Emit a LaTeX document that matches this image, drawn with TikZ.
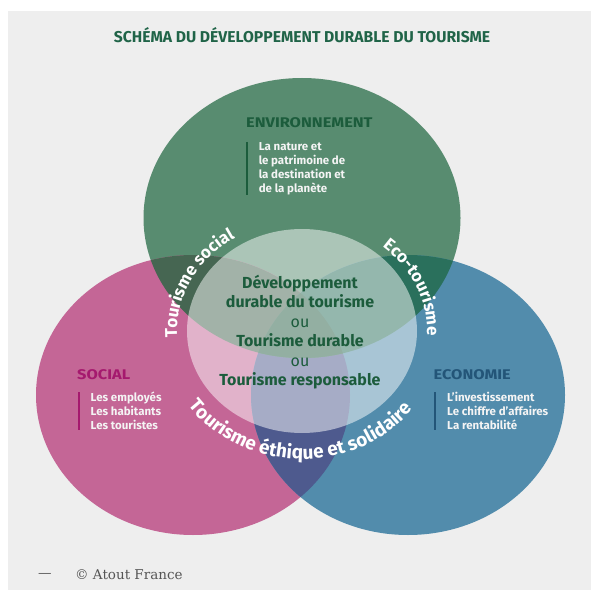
\documentclass[tikz,border=0pt]{standalone}
\usepackage{fontspec}
\setmainfont{Fira Sans}
\newfontfamily\creditfont{DejaVu Serif}
\newfontfamily\headfont[FakeStretch=1.17]{Fira Sans}
\usetikzlibrary{positioning,
                decorations.text}

\definecolor{bggray}{RGB}{238,238,238}
\definecolor{envgreen}{RGB}{88,140,112}
\definecolor{socpink}{RGB}{196,102,150}
\definecolor{ecoblue}{RGB}{82,140,172}
\definecolor{envsoc}{RGB}{70,102,82}
\definecolor{enveco}{RGB}{42,112,92}
\definecolor{soceco}{RGB}{78,90,142}
\definecolor{allthree}{RGB}{40,95,70}
\definecolor{titlegreen}{RGB}{32,100,72}
\definecolor{envdark}{RGB}{28,92,60}
\definecolor{socdark}{RGB}{165,25,110}
\definecolor{ecodark}{RGB}{35,85,120}
\definecolor{bodywhite}{RGB}{244,244,244}
\definecolor{creditgray}{RGB}{85,85,85}

\newcommand{\sidefont}{\bfseries\fontsize{17}{17}\selectfont}
\newcommand{\arcfont}{\bfseries\fontsize{19}{19}\selectfont}

\tikzset{heading/.style =
   {anchor=west,
    inner sep=0pt,
    font=\headfont\bfseries\fontsize{14}{14}\selectfont}}
\tikzset{bodytext/.style =
   {anchor=north west,
    align=left,
    inner sep=0pt,
    text=bodywhite,
    font=\bfseries\fontsize{11.5}{14}\selectfont}}
\tikzset{sidebar/.style = {draw, line width=2pt}}
\tikzset{curved/.style =
   {decorate,
    decoration={text along path,
                text color=white,
                text align=center}}}
\tikzset{envzone/.style = {x radius=158.5pt, y radius=140pt}}
\tikzset{sidezone/.style = {x radius=157pt, y radius=140pt}}

\begin{document}
\begin{tikzpicture}[x=1pt, y=1pt]

    \useasboundingbox (0,0) rectangle (591,590);
    \fill[white] (0,0) rectangle (591,590);
    \fill[bggray] (8,0) rectangle (591,579);

    \coordinate (cenv) at (302,372);
    \coordinate (csoc) at (193,195);
    \coordinate (ceco) at (408,195);
    \coordinate (cmid) at (302,259);

    % three circles
    \fill[envgreen] (cenv) ellipse [envzone];
    \fill[socpink] (csoc) ellipse [sidezone];
    \fill[ecoblue] (ceco) ellipse [sidezone];

    % overlaps
    \begin{scope}
        \clip (csoc) ellipse [sidezone];
        \fill[soceco] (ceco) ellipse [sidezone];
    \end{scope}
    \begin{scope}
        \clip (cenv) ellipse [envzone];
        \fill[envsoc] (csoc) ellipse [sidezone];
        \fill[enveco] (ceco) ellipse [sidezone];
        \clip (csoc) ellipse [sidezone];
        \fill[allthree] (ceco) ellipse [sidezone];
    \end{scope}

    % light centre
    \fill[white, opacity=0.5] (cmid) ellipse [x radius=115pt, y radius=102pt];

    % texts on the arcs
    \path[curved, decoration={text={|\sidefont|Tourisme social}}]
        (cmid) ++(195:125pt and 110pt)
        arc [start angle=195, end angle=112, x radius=125pt, y radius=110pt];
    \path[curved, decoration={text={|\sidefont|Eco-tourisme}}]
        (cmid) ++(68:125pt and 110pt)
        arc [start angle=68, end angle=-22, x radius=125pt, y radius=110pt];
    \path[curved, decoration={text={|\arcfont|Tourisme éthique et solidaire}}]
        (cmid) ++(195:140pt and 128pt)
        arc [start angle=195, end angle=343, x radius=140pt, y radius=128pt];

    \node [font=\bfseries\fontsize{15.7}{16}\selectfont,
           text=titlegreen] (title) at (302,555)
          {SCHÉMA DU DÉVELOPPEMENT DURABLE DU TOURISME};

    \node [heading, text=envdark] (envhead) at (246,467) {ENVIRONNEMENT};
    \node [bodytext] (envbody) at (258.6,448)
          {La nature et\\le patrimoine de\\la destination et\\de la planète};
    \draw [sidebar, envdark] ([xshift=-12pt]envbody.north west)
                          -- ([xshift=-12pt]envbody.south west);

    \node [heading, text=socdark] (sochead) at (77,215) {SOCIAL};
    \node [bodytext] (socbody) at (90.5,198)
          {Les employés\\Les habitants\\Les touristes};
    \draw [sidebar, socdark] ([xshift=-12pt]socbody.north west)
                          -- ([xshift=-12pt]socbody.south west);

    \node [heading, text=ecodark] (ecohead) at (433.5,215) {ECONOMIE};
    \node [bodytext] (ecobody) at (447,198)
          {L’investissement\\Le chiffre d’affaires\\La rentabilité};
    \draw [sidebar, ecodark] ([xshift=-12pt]ecobody.north west)
                          -- ([xshift=-12pt]ecobody.south west);

    \node [align=center,
           text=envdark,
           font=\bfseries\fontsize{16}{19.4}\selectfont] (core) at (300,258)
          {Développement\\durable du tourisme\\{\mdseries ou}\\Tourisme durable\\{\mdseries ou}\\Tourisme responsable};

    \node [anchor=west, inner sep=0pt, text=creditgray,
           font=\creditfont\fontsize{13.5}{14}\selectfont] (dash) at (38,15) {—};
    \node [anchor=west, inner sep=0pt, text=creditgray,
           font=\creditfont\fontsize{13.5}{14}\selectfont] (credit) at (75,15) {© Atout France};

\end{tikzpicture}
\end{document}
